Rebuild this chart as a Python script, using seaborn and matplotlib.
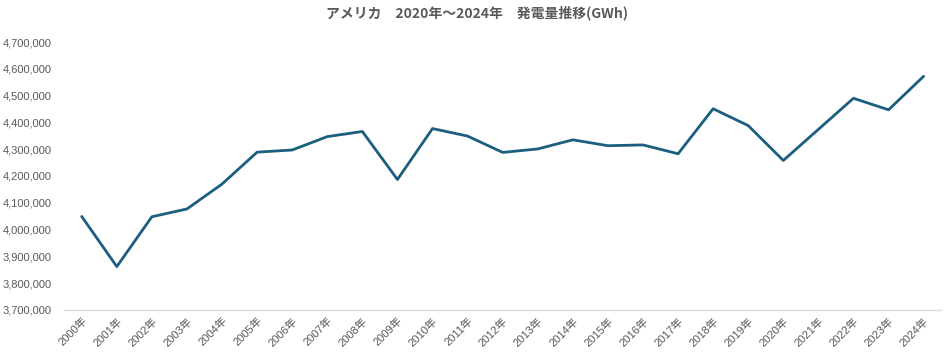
import matplotlib
matplotlib.use("Agg")
import matplotlib.pyplot as plt
import matplotlib.ticker as mticker
import seaborn as sns
import pandas as pd

years = [f"{y}年" for y in range(2000, 2025)]
values = [4049000, 3862000, 4048000, 4077000, 4170000, 4289000, 4297000, 4347000,
          4366000, 4187000, 4377000, 4349000, 4288000, 4301000, 4335000, 4313000,
          4316000, 4283000, 4451000, 4388000, 4258000, 4374000, 4490000, 4447000,
          4572000]
title = "アメリカ　2020年～2024年　発電量推移(GWh)"

sns.set_theme(style="white")
plt.rcParams['font.family'] = ['Liberation Sans', 'Noto Sans CJK JP', 'DejaVu Sans']

df = pd.DataFrame({"year": years, "value": values})

fig = plt.figure(figsize=(9.44, 3.59), dpi=100)
ax = fig.add_axes([0.068, 0.1365, 0.929, 0.7465])
sns.lineplot(data=df, x="year", y="value", ax=ax, color="#1B5E80", linewidth=2.0, sort=False)

ax.set_ylim(3700000, 4700000)
ax.set_xlim(-0.5, len(years) - 0.5)
ax.yaxis.set_major_locator(mticker.MultipleLocator(100000))
ax.yaxis.set_major_formatter(mticker.FuncFormatter(lambda v, p: f"{int(v):,}"))
ax.set_xlabel("")
ax.set_ylabel("")
for s in ["top", "right", "left"]:
    ax.spines[s].set_visible(False)
ax.spines["bottom"].set_color("#D9D9D9")
ax.spines["bottom"].set_linewidth(1.0)
ax.tick_params(axis="both", length=0, colors="#595959", labelsize=8)
ax.tick_params(axis="y", pad=9)
ax.tick_params(axis="x", pad=4)
plt.setp(ax.get_xticklabels(), rotation=45, ha="right", rotation_mode="anchor",
         family=['Liberation Sans', 'Noto Sans CJK JP'])
ax.grid(False)

fig.suptitle(title, x=0.505, y=0.985, fontsize=10, fontweight="bold", color="#595959",
             family=['Noto Sans CJK JP', 'DejaVu Sans'])

fig.savefig("out.png", dpi=100)
